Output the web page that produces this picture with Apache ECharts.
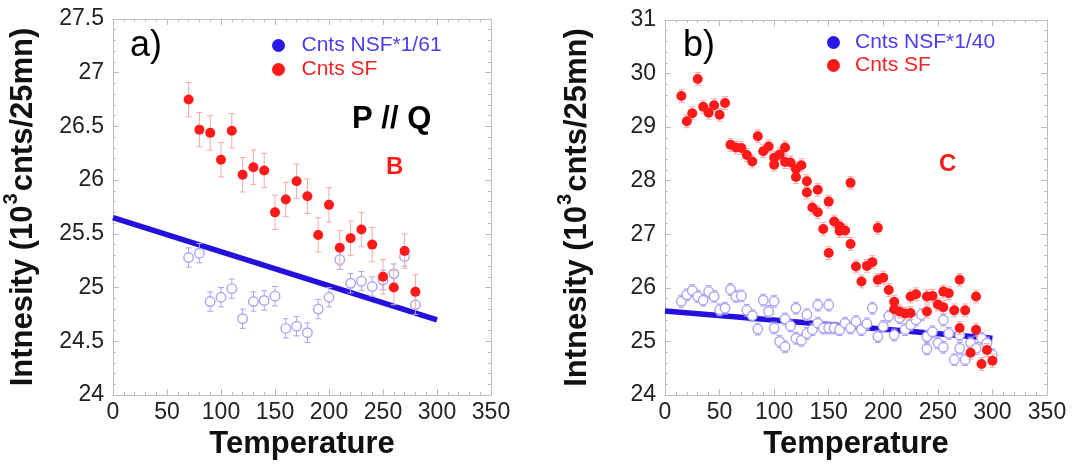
<!DOCTYPE html>
<html>
<head>
<meta charset="utf-8">
<script src="https://cdn.jsdelivr.net/npm/echarts/dist/echarts.min.js"></script>
<style>
html,body{margin:0;padding:0;background:#fff;}
#chart{width:1073px;height:465px;}
</style>
</head>
<body>
<div id="chart"></div>
<script>
// ---------- Panel a data ----------
const tA = [70, 80, 90, 100, 110, 120, 130, 140, 150, 160, 170, 180, 190, 200, 210, 220, 230, 240, 250, 260, 270, 280];
const sfA = [26.75, 26.47, 26.44, 26.19, 26.46, 26.05, 26.12, 26.09, 25.70, 25.82, 25.99, 25.85, 25.49, 25.77, 25.37, 25.46, 25.54, 25.40, 25.10, 25.00, 25.34, 24.96];
const nsfA = [25.28, 25.32, 24.87, 24.91, 24.99, 24.71, 24.87, 24.88, 24.92, 24.62, 24.64, 24.58, 24.80, 24.91, 25.26, 25.04, 25.06, 25.01, 25.07, 25.13, 25.29, 24.84];
const sfErrA = 0.16;
const nsfErrA = 0.09;
const fitAT = [0, 300];
const fitAV = [25.65, 24.70];

// ---------- Panel b data ----------
const sfBT = [15, 20, 25, 30, 35, 40, 45, 50, 55, 60, 65, 70, 75, 80, 85, 90, 95, 100, 100, 105, 110, 110, 115, 120, 120, 125, 130, 130, 135, 140, 140, 145, 150, 150, 155, 160, 160, 165, 170, 170, 175, 180, 185, 190, 195, 195, 200, 205, 210, 210, 215, 220, 225, 225, 230, 240, 240, 245, 250, 255, 255, 260, 265, 270, 270, 275, 280, 285, 285, 290, 295, 300];
const sfBV = [29.58, 29.11, 29.26, 29.90, 29.38, 29.27, 29.41, 29.23, 29.45, 28.67, 28.62, 28.61, 28.48, 28.36, 28.83, 28.55, 28.64, 28.43, 28.30, 28.49, 28.62, 28.35, 28.34, 28.22, 28.07, 28.29, 27.99, 27.78, 27.50, 27.83, 27.41, 27.10, 27.61, 26.65, 27.24, 27.15, 27.06, 27.07, 27.96, 26.82, 26.40, 26.12, 26.41, 26.48, 27.12, 26.15, 26.19, 25.96, 25.74, 25.60, 25.56, 25.52, 25.53, 25.84, 25.88, 25.84, 25.56, 25.85, 25.69, 25.93, 25.64, 25.90, 25.58, 26.15, 25.25, 25.58, 24.79, 25.84, 25.22, 24.58, 24.84, 24.64];
const nsfBT = [15, 20, 25, 30, 35, 40, 45, 50, 55, 60, 65, 70, 75, 80, 85, 90, 95, 100, 100, 105, 110, 110, 115, 120, 120, 125, 130, 130, 135, 140, 140, 145, 150, 150, 155, 160, 165, 170, 175, 180, 185, 190, 195, 200, 205, 210, 215, 220, 225, 230, 235, 240, 240, 245, 250, 255, 255, 260, 265, 270, 270, 275, 280, 285, 290, 295, 300];
const nsfBV = [25.75, 25.87, 25.95, 25.84, 25.77, 25.93, 25.84, 25.59, 25.62, 25.97, 25.84, 25.85, 25.58, 25.48, 25.23, 25.77, 25.56, 25.75, 25.25, 25.00, 24.90, 25.42, 25.29, 25.62, 25.06, 25.02, 25.50, 25.15, 25.22, 25.68, 25.34, 25.25, 25.68, 25.25, 25.25, 25.22, 25.34, 25.25, 25.37, 25.22, 25.33, 25.62, 25.09, 25.28, 25.47, 25.12, 25.44, 25.22, 25.31, 25.40, 25.50, 25.09, 24.86, 25.18, 24.97, 25.40, 24.89, 25.15, 24.66, 25.12, 24.87, 24.66, 24.97, 24.87, 25.06, 24.97, 24.75];
const sfErrB = 0.12;
const nsfErrB = 0.11;
const fitBT = [0, 300];
const fitBV = [25.57, 25.06];

// ---------- axis settings ----------
const xTicks = {min: 0, max: 350, interval: 50};
const yTicksA = {min: 24, max: 27.5, interval: 0.5};
const yTicksB = {min: 24, max: 31, interval: 1};

const FONT = 'Liberation Sans, Arial, sans-serif';
const AXIS_GRAY = '#bdbdbd';
const RED = '#ff1a1a';
const PINK = '#f4a9a9';
const LAV = '#ada3f2';
const LINEBLUE = '#2410dc';

function baseAxis(extra) {
  return Object.assign({
    type: 'value',
    axisLine: {show: true, onZero: false, lineStyle: {color: AXIS_GRAY, width: 1}},
    axisTick: {show: true, inside: true, length: 6, lineStyle: {color: AXIS_GRAY}},
    minorTick: {show: true, splitNumber: 5, length: 3, lineStyle: {color: AXIS_GRAY}},
    splitLine: {show: false},
    minorSplitLine: {show: false}
  }, extra);
}

function xAxesFor(g) {
  return [
    baseAxis(Object.assign({gridIndex: g, position: 'bottom',
      axisLabel: {color: '#222', fontSize: 23, margin: 6, fontFamily: FONT, showMinLabel: true, showMaxLabel: true},
      name: 'Temperature', nameLocation: 'middle', nameGap: 31,
      nameTextStyle: {fontSize: 31, fontWeight: 'bold', color: '#111', fontFamily: FONT}
    }, xTicks)),
    baseAxis(Object.assign({gridIndex: g, position: 'top', axisLabel: {show: false}}, xTicks))
  ];
}

function yAxesFor(g, ticks, gap) {
  return [
    baseAxis(Object.assign({gridIndex: g, position: 'left',
      axisLabel: {color: '#222', fontSize: 23, margin: 9, fontFamily: FONT, showMinLabel: true, showMaxLabel: true},
      name: 'Intnesity (10{s|3}cnts/25mn)', nameLocation: 'middle', nameGap: gap, nameRotate: 90,
      nameTextStyle: {fontSize: 31, fontWeight: 'bold', color: '#111', fontFamily: FONT, lineHeight: 44,
        rich: {s: {fontSize: 20, fontWeight: 'bold', color: '#111', fontFamily: FONT, verticalAlign: 'top', lineHeight: 22, padding: [0, 2, 0, 1]}}}
    }, ticks)),
    baseAxis(Object.assign({gridIndex: g, position: 'right', axisLabel: {show: false}}, ticks))
  ];
}

function errBarRender(color) {
  return function (params, api) {
    const x = api.value(0), y = api.value(1), e = api.value(2);
    const top = api.coord([x, y + e]);
    const bot = api.coord([x, y - e]);
    const hw = 3;
    const st = {stroke: color, lineWidth: 1};
    return {type: 'group', children: [
      {type: 'line', shape: {x1: top[0], y1: top[1], x2: bot[0], y2: bot[1]}, style: st},
      {type: 'line', shape: {x1: top[0] - hw, y1: top[1], x2: top[0] + hw, y2: top[1]}, style: st},
      {type: 'line', shape: {x1: bot[0] - hw, y1: bot[1], x2: bot[0] + hw, y2: bot[1]}, style: st}
    ]};
  };
}

function panelSeries(xi, yi, T1, nsf, nsfErr, nsfName, T2, sf, sfErr, fitT, fitV) {
  const T2x = T2 || T1;
  return [
    {type: 'line', xAxisIndex: xi, yAxisIndex: yi, data: fitT.map((t, i) => [t, fitV[i]]),
      showSymbol: false, symbol: 'none', lineStyle: {color: LINEBLUE, width: 5.5}, z: 2, silent: true},
    {type: 'custom', xAxisIndex: xi, yAxisIndex: yi, renderItem: errBarRender(LAV),
      data: nsf.map((v, i) => [T1[i], v, nsfErr]), z: 3, silent: true},
    {type: 'scatter', name: nsfName, xAxisIndex: xi, yAxisIndex: yi, data: nsf.map((v, i) => [T1[i], v]),
      symbol: 'circle', symbolSize: 9.5, itemStyle: {color: '#ffffff', borderColor: LAV, borderWidth: 1.4, opacity: 1}, z: 4},
    {type: 'custom', xAxisIndex: xi, yAxisIndex: yi, renderItem: errBarRender(PINK),
      data: sf.map((v, i) => [T2x[i], v, sfErr]), z: 5, silent: true},
    {type: 'scatter', name: 'Cnts SF', xAxisIndex: xi, yAxisIndex: yi, data: sf.map((v, i) => [T2x[i], v]),
      symbol: 'circle', symbolSize: 10, itemStyle: {color: RED, opacity: 1}, z: 6}
  ];
}

const nsfBlueIcon = '#2a18e6';
const legendText = {fontSize: 21, fontFamily: FONT};

const option = {
  animation: false,
  backgroundColor: '#ffffff',
  grid: [
    {left: 112, right: 582, top: 19, bottom: 70},
    {left: 665, right: 26, top: 20, bottom: 70}
  ],
  xAxis: [].concat(xAxesFor(0), xAxesFor(1)),
  yAxis: [].concat(yAxesFor(0, yTicksA, 68), yAxesFor(1, yTicksB, 66)),
  legend: [
    {orient: 'vertical', left: 272, top: 35, padding: 0, itemWidth: 36, itemHeight: 13, itemGap: 3, textStyle: legendText,
      data: [
        {name: 'Cnts NSF*1/61', icon: 'circle', itemStyle: {color: nsfBlueIcon, borderWidth: 0}, textStyle: {color: '#4a3cf0'}},
        {name: 'Cnts SF', icon: 'circle', itemStyle: {color: RED, borderWidth: 0}, textStyle: {color: '#f02424'}}
      ]},
    {orient: 'vertical', left: 827, top: 32, padding: 0, itemWidth: 33, itemHeight: 13, itemGap: 2, textStyle: legendText,
      data: [
        {name: 'Cnts NSF*1/40', icon: 'circle', itemStyle: {color: nsfBlueIcon, borderWidth: 0}, textStyle: {color: '#4a3cf0'}},
        {name: 'Cnts SF', icon: 'circle', itemStyle: {color: RED, borderWidth: 0}, textStyle: {color: '#f02424'}}
      ]}
  ],
  graphic: [
    {type: 'text', left: 130, top: 28, style: {text: 'a)', fontSize: 36, fill: '#000', fontFamily: FONT}},
    {type: 'text', left: 683, top: 28, style: {text: 'b)', fontSize: 36, fill: '#000', fontFamily: FONT}},
    {type: 'text', left: 352, top: 104, style: {text: 'P // Q', fontSize: 31, fontWeight: 'bold', fill: '#000', fontFamily: FONT}},
    {type: 'text', left: 386, top: 155, style: {text: 'B', fontSize: 24, fontWeight: 'bold', fill: RED, fontFamily: FONT}},
    {type: 'text', left: 939, top: 152, style: {text: 'C', fontSize: 24, fontWeight: 'bold', fill: RED, fontFamily: FONT}}
  ],
  series: [].concat(
    panelSeries(0, 0, tA, nsfA, nsfErrA, 'Cnts NSF*1/61', null, sfA, sfErrA, fitAT, fitAV),
    panelSeries(2, 2, nsfBT, nsfBV, nsfErrB, 'Cnts NSF*1/40', sfBT, sfBV, sfErrB, fitBT, fitBV)
  )
};

const chart = echarts.init(document.getElementById('chart'), null, {renderer: 'canvas'});
chart.setOption(option);
</script>
</body>
</html>
